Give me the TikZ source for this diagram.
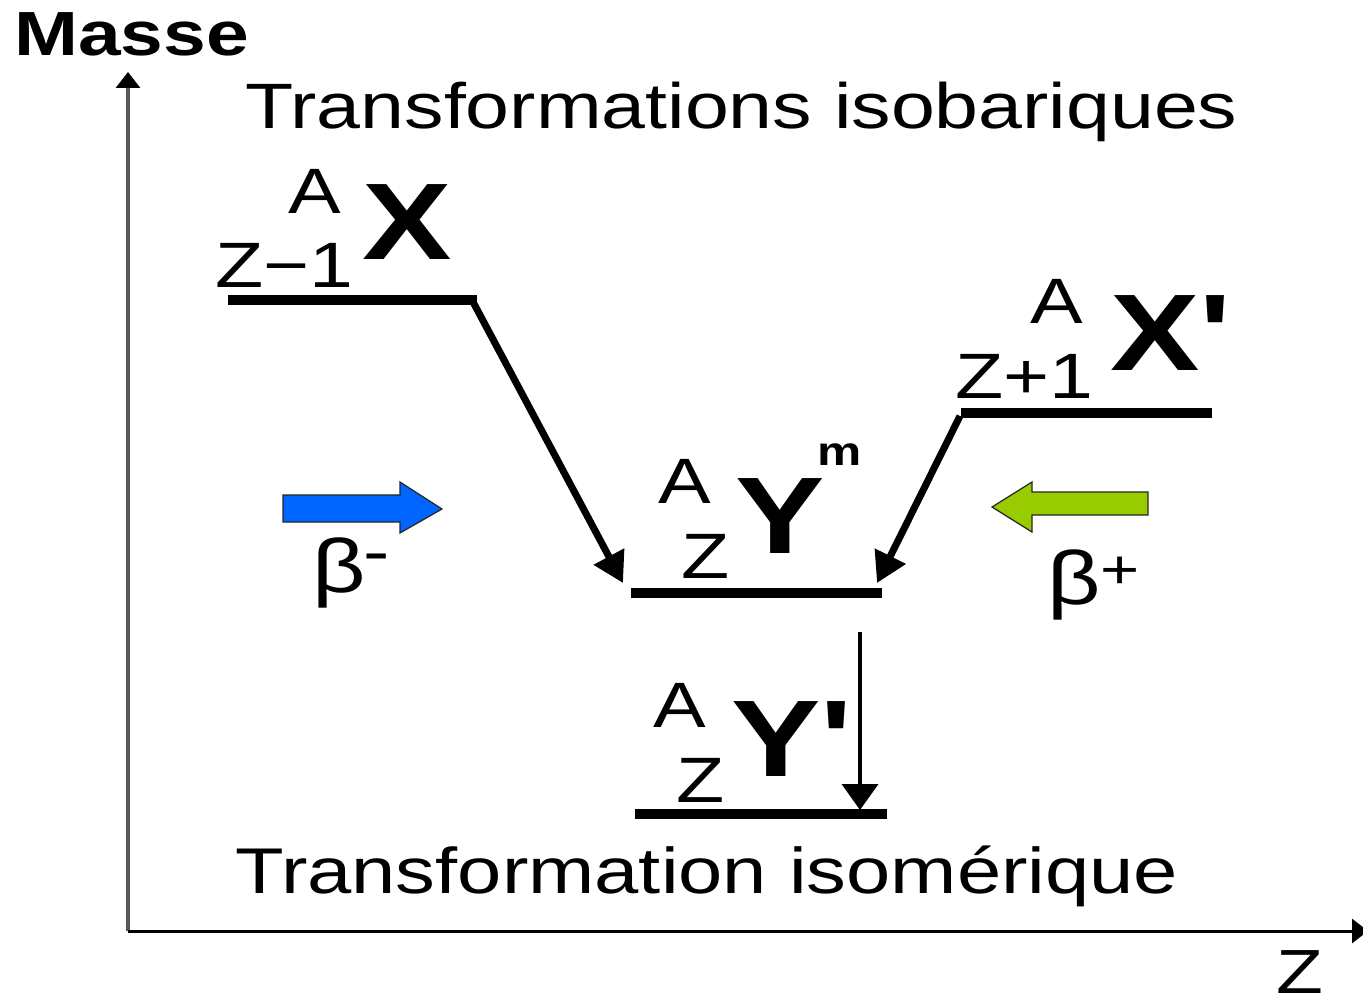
\documentclass[tikz,border=0pt]{standalone}
\usepackage{fontspec}
\newfontfamily\af{Liberation Sans}[FakeStretch=1.23]
\usetikzlibrary{arrows.meta}
\newcommand\fsz[1]{\fontsize{#1}{#1}\selectfont}
\definecolor{betablue}{RGB}{0,102,255}
\definecolor{betagreen}{RGB}{153,204,0}
\begin{document}
\begin{tikzpicture}[x=0.02cm,y=-0.02cm,
  txt/.style={inner sep=0pt, anchor=base west, font=\af},
  reg/.style={txt, font=\af\fsz{36.5pt}},
  big/.style={txt, font=\af\bfseries\fsz{62pt}},
  level/.style={line width=5.7pt},
  decay/.style={line width=4pt, -{Triangle[length=0.6cm,width=0.66cm]}},
  gammaarrow/.style={line width=2.2pt, -{Triangle[length=0.52cm,width=0.72cm]}},
  blockarrow/.style={draw=black!85, line width=0.7pt, line join=miter}]
\useasboundingbox (0,0) rectangle (1363,1004);

% axes
\coordinate (o) at (128,931);
\coordinate (ytop) at (128,72);
\coordinate (xend) at (1368,931);
\draw[gray!70!black, line width=1.8pt, -{Triangle[length=0.32cm,width=0.48cm,color=black]}] (o) -- (ytop);
\draw[black, line width=1.7pt, -{Triangle[length=0.32cm,width=0.48cm]}] (o) -- (xend);
\node[txt, font=\af\bfseries\fsz{35.5pt}] (masse) at (14,55) {Masse};
\node[txt, font=\af\fsz{35.5pt}] (zaxis) at (1276,993) {Z};

% titles
\node[reg] (isobar) at (245,128) {Transformations isobariques};
\node[txt, font=\af\fsz{36.8pt}] (isomer) at (235,893) {Transformation isomérique};

% levels
\coordinate (xl) at (228,300);  \coordinate (xr) at (477,300);
\coordinate (xpl) at (961,413); \coordinate (xpr) at (1212,413);
\coordinate (yml) at (631,593); \coordinate (ymr) at (882,593);
\coordinate (ypl) at (635,814); \coordinate (ypr) at (887,814);
\draw[level] (xl) -- (xr);
\draw[level] (xpl) -- (xpr);
\draw[level] (yml) -- (ymr);
\draw[level] (ypl) -- (ypr);

% decay arrows
\coordinate (a1s) at (472,300); \coordinate (a1e) at (623,583);
\coordinate (a2s) at (960,416); \coordinate (a2e) at (877,583);
\coordinate (a3s) at (860,632); \coordinate (a3e) at (860,810);
\draw[decay] (a1s) -- (a1e);
\draw[decay] (a2s) -- (a2e);
\draw[gammaarrow] (a3s) -- (a3e);

% nuclide labels
\node[reg] (xa) at (288,213) {A};
\node[reg] (xz) at (215,287) {Z−1};
\node[big] (xx) at (362,259) {X};

\node[reg] (xpa) at (1030,323) {A};
\node[reg] (xpz) at (955,398) {Z+1};
\node[big] (xpx) at (1110,370) {X'};

\node[reg] (yma) at (658,503) {A};
\node[reg] (ymz) at (681,578) {Z};
\node[big] (ymy) at (735,553) {Y};
\node[txt, font=\af\bfseries\fsz{23pt}] (ymm) at (817,465) {m};

\node[reg] (ypa) at (653,727) {A};
\node[reg] (ypz) at (676,802) {Z};
\node[big] (ypy) at (731,776) {Y'};

% beta arrows
\fill[betablue] (283,495) -- (400,495) -- (400,482) -- (442,509) -- (400,533) -- (400,522) -- (283,522) -- cycle;
\draw[blockarrow] (283,495) -- (400,495) -- (400,482) -- (442,509) -- (400,533) -- (400,522) -- (283,522) -- cycle;
\fill[betagreen] (1148,492) -- (1032,492) -- (1032,482) -- (992,507) -- (1032,532) -- (1032,515) -- (1148,515) -- cycle;
\draw[blockarrow] (1148,492) -- (1032,492) -- (1032,482) -- (992,507) -- (1032,532) -- (1032,515) -- (1148,515) -- cycle;

\node[txt, font=\af\fsz{43pt}] (bm) at (312,592) {β};
\node[reg] (bmsign) at (363,573) {-};
\node[txt, font=\af\fsz{43pt}] (bp) at (1047,604) {β};
\node[txt, font=\af\fsz{31pt}] (bpsign) at (1100,588) {+};
\end{tikzpicture}
\end{document}
